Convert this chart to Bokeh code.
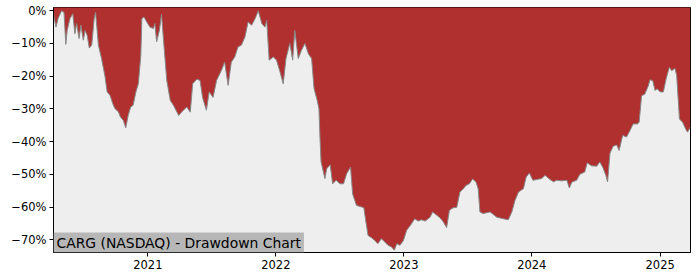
from datetime import datetime
from bokeh.plotting import figure
from bokeh.models import Range1d, FixedTicker, DatetimeTickFormatter, Label, ColumnDataSource
from bokeh.embed import file_html
from bokeh.resources import INLINE

dates = [
    "2020-04-07", "2020-04-14", "2020-04-20", "2020-04-30", "2020-05-07", "2020-05-12", "2020-05-16",
    "2020-05-24", "2020-06-01", "2020-06-07", "2020-06-12", "2020-06-19", "2020-06-24", "2020-07-01",
    "2020-07-06", "2020-07-12", "2020-07-18", "2020-07-25", "2020-08-01", "2020-08-05", "2020-08-13",
    "2020-08-22", "2020-09-01", "2020-09-07", "2020-09-15", "2020-09-23", "2020-09-29", "2020-10-09",
    "2020-10-15", "2020-10-23", "2020-10-30", "2020-11-06", "2020-11-13", "2020-11-20", "2020-11-28",
    "2020-12-05", "2020-12-12", "2020-12-15", "2020-12-21", "2020-12-29",
    "2021-01-07", "2021-01-17", "2021-01-21", "2021-01-26", "2021-02-03", "2021-02-09", "2021-02-14",
    "2021-02-24", "2021-03-06", "2021-03-15", "2021-03-30", "2021-04-08", "2021-04-22", "2021-05-02",
    "2021-05-09", "2021-05-21", "2021-05-30", "2021-06-06", "2021-06-17", "2021-06-25", "2021-07-06",
    "2021-07-16", "2021-07-30", "2021-08-08", "2021-08-18", "2021-08-27", "2021-09-06", "2021-09-15",
    "2021-09-25", "2021-10-05", "2021-10-14", "2021-10-24", "2021-11-03", "2021-11-12", "2021-11-22",
    "2021-12-01", "2021-12-06", "2021-12-13", "2021-12-25",
    "2022-01-03", "2022-01-13", "2022-01-22", "2022-01-30", "2022-02-10", "2022-02-18", "2022-02-24",
    "2022-03-06", "2022-03-15", "2022-03-25", "2022-04-04", "2022-04-13", "2022-04-20", "2022-04-29",
    "2022-05-04", "2022-05-07", "2022-05-10", "2022-05-21", "2022-05-26", "2022-06-05", "2022-06-12",
    "2022-06-22", "2022-07-03", "2022-07-13", "2022-07-22", "2022-08-02", "2022-08-08", "2022-08-19",
    "2022-09-03", "2022-09-09", "2022-09-15", "2022-09-21", "2022-10-01", "2022-10-10", "2022-10-19",
    "2022-10-29", "2022-11-08", "2022-11-17", "2022-11-27", "2022-12-05", "2022-12-12", "2022-12-21",
    "2022-12-31",
    "2023-01-09", "2023-01-20", "2023-02-01", "2023-02-11", "2023-02-20", "2023-03-03", "2023-03-17",
    "2023-03-24", "2023-04-05", "2023-04-14", "2023-04-24", "2023-05-03", "2023-05-11", "2023-05-22",
    "2023-06-01", "2023-06-10", "2023-06-20", "2023-06-27", "2023-07-07", "2023-07-16", "2023-07-26",
    "2023-08-01", "2023-08-06", "2023-08-15", "2023-09-04", "2023-09-23", "2023-10-12", "2023-10-26",
    "2023-11-05", "2023-11-14", "2023-11-24", "2023-12-08", "2023-12-16", "2023-12-25",
    "2024-01-04", "2024-01-15", "2024-01-29", "2024-02-08", "2024-02-22", "2024-03-03", "2024-03-12",
    "2024-03-26", "2024-04-10", "2024-04-17", "2024-04-24", "2024-05-08", "2024-05-17", "2024-05-31",
    "2024-06-07", "2024-06-19", "2024-07-04", "2024-07-13", "2024-07-22", "2024-07-30", "2024-08-04",
    "2024-08-11", "2024-08-20", "2024-08-30", "2024-09-06", "2024-09-16", "2024-09-27", "2024-10-07",
    "2024-10-16", "2024-10-28", "2024-11-02", "2024-11-09", "2024-11-18", "2024-11-28", "2024-12-03",
    "2024-12-11", "2024-12-17", "2024-12-24",
    "2025-01-01", "2025-01-10", "2025-01-18", "2025-01-27", "2025-02-03", "2025-02-12", "2025-02-17",
    "2025-02-25", "2025-03-06", "2025-03-15", "2025-03-20", "2025-03-28",
]

drawdown = [
    -1.0, -5.0, -2.4, 0.0, -0.5, -10.3, -6.0,
    -2.4, -0.9, -7.0, -3.9, -8.5, -4.4, -9.0,
    -6.0, -7.5, -11.4, -10.5, -2.4, -0.5, -10.5,
    -14.6, -20.2, -24.8, -25.8, -28.4, -29.9, -30.9,
    -32.5, -33.5, -35.8, -32.0, -29.4, -28.9, -24.8,
    -22.3, -13.6, -2.4, -1.9, -3.4,
    -5.0, -5.4, -3.9, -9.5, -6.0, -1.1, -8.0,
    -21.3, -27.4, -28.9, -32.0, -30.9, -29.4, -31.0,
    -22.3, -20.9, -21.3, -26.5, -30.4, -24.8, -26.5,
    -21.3, -18.2, -15.7, -22.8, -15.7, -14.1, -11.1,
    -10.5, -8.0, -3.4, -4.4, -2.4, 0.0, -3.9,
    -5.0, -2.9, -15.1, -14.1,
    -15.1, -18.7, -22.3, -14.6, -10.0, -15.1, -6.0,
    -14.6, -12.1, -10.0, -13.2, -14.6, -23.8, -27.4,
    -30.0, -39.0, -46.2, -51.3, -48.3, -47.1, -52.9,
    -51.8, -52.9, -52.9, -49.8, -47.8, -56.0, -59.5,
    -60.0, -60.2, -64.6, -68.7, -69.4, -70.2, -71.2,
    -69.7, -70.7, -71.7, -72.2, -73.2, -71.2, -71.7,
    -70.2,
    -67.1, -65.6, -63.6, -64.3, -63.9, -64.3, -63.1,
    -61.5, -62.5, -63.3, -64.6, -66.3, -61.0, -60.2,
    -60.1, -55.4, -54.4, -53.4, -52.9, -51.4, -52.4,
    -54.4, -61.5, -62.0, -61.5, -63.1, -63.6, -63.9,
    -61.5, -58.0, -55.4, -54.4, -50.8, -49.6,
    -51.8, -51.6, -51.3, -50.3, -51.6, -52.3, -51.8,
    -52.0, -51.8, -54.2, -52.4, -51.8, -50.0, -49.3,
    -46.5, -47.4, -47.5, -46.2, -48.0, -50.3, -52.3,
    -43.5, -41.4, -41.0, -42.7, -38.1, -38.6, -36.6,
    -34.6, -34.6, -34.1, -26.0, -25.5, -23.0, -21.1,
    -21.4, -24.3, -23.9,
    -24.8, -24.8, -20.8, -17.3, -18.3, -17.6, -19.7,
    -33.1, -34.1, -36.2, -37.1, -35.6,
]

year_ticks = ["2021-01-01", "2022-01-01", "2023-01-01", "2024-01-01", "2025-01-01"]
y_ticks = [0, -10, -20, -30, -40, -50, -60, -70]
y_tick_labels = ["0%", "\u221210%", "\u221220%", "\u221230%", "\u221240%", "\u221250%", "\u221260%", "\u221270%"]
title_text = "CARG (NASDAQ) - Drawdown Chart"

x = [datetime.strptime(d, "%Y-%m-%d") for d in dates]
src = ColumnDataSource(dict(x=x, dd=drawdown))

p = figure(width=700, height=280, x_axis_type="datetime", output_backend="svg",
           toolbar_location=None,
           x_range=Range1d(datetime(2020, 4, 7), datetime(2025, 3, 28, 12)),
           y_range=Range1d(-73.9, 1.0),
           min_border_left=53, min_border_right=10, min_border_top=7, min_border_bottom=28)

p.background_fill_color = "#eeeeee"
p.border_fill_color = "white"
p.outline_line_color = "black"
p.outline_line_width = 1
p.grid.visible = False

p.varea(x="x", y1="dd", y2=5, source=src, fill_color="#b03030")
p.line(x="x", y="dd", source=src, line_color="#888888", line_width=1)

tick_ms = [datetime.strptime(d, "%Y-%m-%d").timestamp() * 1000 for d in year_ticks]
p.xaxis.ticker = FixedTicker(ticks=tick_ms)
p.xaxis.formatter = DatetimeTickFormatter(years="%Y", months="%Y", days="%Y")
p.yaxis.ticker = FixedTicker(ticks=y_ticks)
p.yaxis.major_label_overrides = {t: l for t, l in zip(y_ticks, y_tick_labels)}

for ax in (p.xaxis, p.yaxis):
    ax.major_label_text_font = "DejaVu Sans"
    ax.major_label_text_font_size = "11.5px"
    ax.major_label_text_color = "black"
    ax.axis_line_color = "black"
    ax.major_tick_line_color = "black"
    ax.major_tick_out = 4
    ax.major_tick_in = 0
    ax.minor_tick_line_color = None
    ax.major_label_standoff = 3

lab = Label(x=datetime(2020, 4, 7), y=-73.9, text=title_text, x_units="data", y_units="data",
            text_font="DejaVu Sans", text_font_size="13.9px", text_color="black",
            text_align="left", text_baseline="bottom",
            background_fill_color="#b7b7b7",
            padding=dict(left=3, right=3, top=2, bottom=2))
p.add_layout(lab)

open("out.html", "w").write(file_html(p, INLINE))
